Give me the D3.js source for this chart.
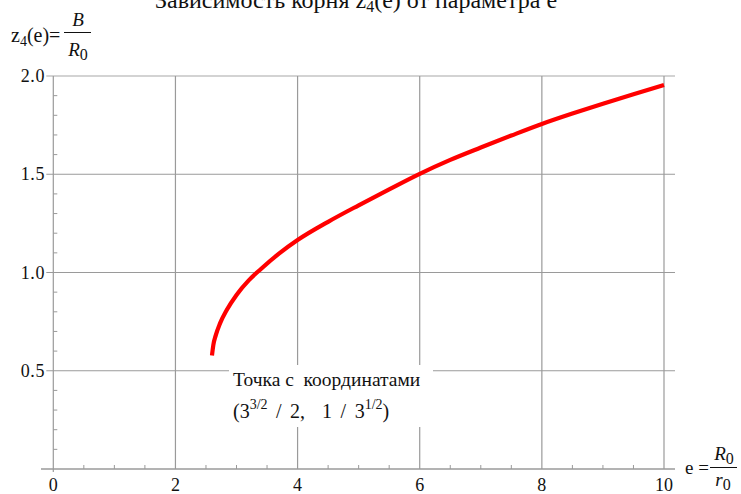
<!DOCTYPE html>
<html><head><meta charset="utf-8">
<script src="https://cdn.jsdelivr.net/npm/d3@7"></script>
<style>body{margin:0;background:#fff} text{font-family:"Liberation Serif","Times New Roman",serif;fill:#111;white-space:pre}</style>
</head><body><svg id="c" width="741" height="494"></svg>
<script>
// Data
const eValues = [2.598, 2.62, 2.66, 2.73, 2.84, 3.00, 3.20, 3.40, 3.70, 4.00, 4.50, 5.00, 5.50, 6.00, 6.50, 7.00, 7.50, 8.00, 8.50, 9.00, 9.50, 10.00];
const zValues = [0.577, 0.630, 0.680, 0.741, 0.809, 0.886, 0.960, 1.018, 1.097, 1.165, 1.258, 1.342, 1.423, 1.502, 1.573, 1.636, 1.697, 1.756, 1.809, 1.859, 1.907, 1.954];
const xTicks = [0, 2, 4, 6, 8, 10];
const xTickLabels = ["0", "2", "4", "6", "8", "10"];
const yTicks = [0.5, 1.0, 1.5, 2.0];
const yTickLabels = ["0.5", "1.0", "1.5", "2.0"];
const xMinorTicks = [0.5,1,1.5,2.5,3,3.5,4.5,5,5.5,6.5,7,7.5,8.5,9,9.5];
const yMinorTicks = [0.1,0.2,0.3,0.4,0.6,0.7,0.8,0.9,1.1,1.2,1.3,1.4,1.6,1.7,1.8,1.9];

const svg = d3.select("#c");
const x = d3.scaleLinear().domain([0, 10]).range([53.3, 664]);
const y = d3.scaleLinear().domain([0, 2]).range([469, 76]);
const xRight = 675;
const gridColor = "#9a9a9a";

// Horizontal grid lines
yTicks.forEach((t) => {
  svg.append("line").attr("x1", x(0) - 7).attr("x2", xRight)
    .attr("y1", y(t)).attr("y2", y(t))
    .attr("stroke", t === 2 ? "#c4c4c4" : gridColor).attr("stroke-width", t === 2 ? 1.5 : 1);
});
// Vertical grid lines
xTicks.filter(t => t > 0).forEach(t => {
  svg.append("line").attr("x1", x(t)).attr("x2", x(t))
    .attr("y1", y(2)).attr("y2", y(0))
    .attr("stroke", gridColor).attr("stroke-width", 1.2);
});
// Axes
svg.append("line").attr("x1", x(0)).attr("x2", x(0)).attr("y1", y(2)).attr("y2", y(0) + 3)
  .attr("stroke", gridColor).attr("stroke-width", 1.2);
svg.append("line").attr("x1", 41).attr("x2", xRight).attr("y1", y(0)).attr("y2", y(0))
  .attr("stroke", gridColor).attr("stroke-width", 1.5);
// Minor ticks
xMinorTicks.forEach(t => {
  svg.append("line").attr("x1", x(t)).attr("x2", x(t)).attr("y1", y(0)).attr("y2", y(0) - 4)
    .attr("stroke", gridColor).attr("stroke-width", 1);
});
yMinorTicks.forEach(t => {
  svg.append("line").attr("x1", x(0)).attr("x2", x(0) + 4).attr("y1", y(t)).attr("y2", y(t))
    .attr("stroke", gridColor).attr("stroke-width", 1);
});

// Curve
svg.append("path").datum(zValues)
  .attr("d", d3.line().x((d, i) => x(eValues[i])).y(d => y(d)).curve(d3.curveMonotoneX))
  .attr("fill", "none").attr("stroke", "#f00").attr("stroke-width", 4.2);

// Tick labels
xTicks.forEach((t, i) => {
  svg.append("text").attr("x", x(t)).attr("y", 491).attr("text-anchor", "middle")
    .attr("font-size", 18).text(xTickLabels[i]);
});
yTicks.forEach((t, i) => {
  svg.append("text").attr("x", 45).attr("y", y(t) + 6).attr("text-anchor", "end")
    .attr("font-size", 18).attr("letter-spacing", 0.6).text(yTickLabels[i]);
});

// Annotation box
svg.append("rect").attr("x", 229).attr("y", 365).attr("width", 204).attr("height", 62).attr("fill", "#fff");
svg.append("text").attr("x", 233).attr("y", 386).attr("font-size", 19.5).text("Точка с  координатами");
const a2 = svg.append("text").attr("x", 233).attr("y", 418).attr("font-size", 20).attr("word-spacing", 3.5);
a2.append("tspan").text("(3");
a2.append("tspan").attr("dy", -9).attr("font-size", 14).text("3/2");
a2.append("tspan").attr("dy", 9).text(" / 2,  1 / 3");
a2.append("tspan").attr("dy", -9).attr("font-size", 14).text("1/2");
a2.append("tspan").attr("dy", 9).text(")");

// Title (cut off at the top, as in the reference)
const tt = svg.append("text").attr("x", 356).attr("y", 8).attr("text-anchor", "middle").attr("font-size", 24);
tt.append("tspan").text("Зависимость корня z");
tt.append("tspan").attr("dy", 4).attr("font-size", 16).text("4");
tt.append("tspan").attr("dy", -4).text("(e) от параметра e");

// Y axis label z4(e) = B / R0
const yl = svg.append("text").attr("x", 11).attr("y", 42).attr("font-size", 20);
yl.append("tspan").text("z");
yl.append("tspan").attr("dy", 4).attr("font-size", 14).text("4");
yl.append("tspan").attr("dy", -4).text("(e)=");
svg.append("text").attr("x", 78).attr("y", 26).attr("text-anchor", "middle").attr("font-size", 19)
  .attr("font-style", "italic").text("B");
svg.append("line").attr("x1", 64).attr("x2", 91).attr("y1", 32.5).attr("y2", 32.5).attr("stroke", "#111").attr("stroke-width", 1);
const r0 = svg.append("text").attr("x", 78).attr("y", 56).attr("text-anchor", "middle").attr("font-size", 19);
r0.append("tspan").attr("font-style", "italic").text("R");
r0.append("tspan").attr("dy", 4).attr("font-size", 16).text("0");

// X axis label e = R0 / r0
svg.append("text").attr("x", 685).attr("y", 474).attr("font-size", 19).text("e =");
const xr = svg.append("text").attr("x", 724).attr("y", 460).attr("text-anchor", "middle").attr("font-size", 19);
xr.append("tspan").attr("font-style", "italic").text("R");
xr.append("tspan").attr("dy", 4).attr("font-size", 16).text("0");
svg.append("line").attr("x1", 710).attr("x2", 737).attr("y1", 467.5).attr("y2", 467.5).attr("stroke", "#111").attr("stroke-width", 1);
const xr2 = svg.append("text").attr("x", 723).attr("y", 486).attr("text-anchor", "middle").attr("font-size", 19);
xr2.append("tspan").attr("font-style", "italic").text("r");
xr2.append("tspan").attr("dy", 4).attr("font-size", 16).text("0");
</script>
</body></html>
